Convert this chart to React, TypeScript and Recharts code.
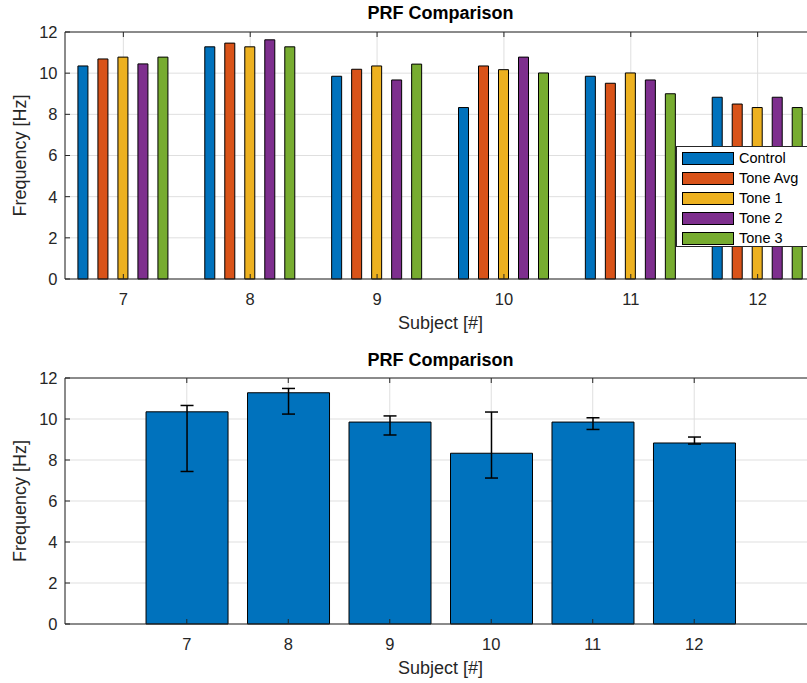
import { BarChart, Bar, XAxis, YAxis, CartesianGrid, ErrorBar, Legend } from "recharts";

const subjects = [7, 8, 9, 10, 11, 12];
const control = [10.35, 11.28, 9.85, 8.33, 9.85, 8.83];
const toneAvg = [10.69, 11.46, 10.19, 10.35, 9.51, 8.5];
const tone1 = [10.78, 11.28, 10.35, 10.17, 10.01, 8.33];
const tone2 = [10.45, 11.62, 9.67, 10.78, 9.67, 8.83];
const tone3 = [10.78, 11.28, 10.44, 10.01, 9.0, 8.33];
// error bar ends for the mean plot
const errLow = [7.44, 10.24, 9.22, 7.12, 9.49, 8.78];
const errHigh = [10.66, 11.49, 10.15, 10.34, 10.06, 9.12];
const yTicks = [0, 2, 4, 6, 8, 10, 12];

const series = [
  { name: "Control", values: control, color: "#0072BD" },
  { name: "Tone Avg", values: toneAvg, color: "#D95319" },
  { name: "Tone 1", values: tone1, color: "#EDB120" },
  { name: "Tone 2", values: tone2, color: "#7E2F8E" },
  { name: "Tone 3", values: tone3, color: "#77AC30" },
];

const groupData = subjects.map((s, i) => {
  const row: any = { subject: s };
  series.forEach((sr) => (row[sr.name] = sr.values[i]));
  return row;
});

const meanData = subjects.map((s, i) => ({
  subject: s,
  value: control[i],
  err: [control[i] - errLow[i], errHigh[i] - control[i]],
}));

const FONT = "'Liberation Sans', Arial, Helvetica, sans-serif";
const AX = "#262626";
const GRID = "#dfdfdf";
const tickStyle = { fontSize: 16.5, fill: AX, fontFamily: FONT };

function LegendBox() {
  return (
    <div
      style={{
        width: 140,
        height: 101,
        border: "1px solid #262626",
        background: "#fff",
        fontFamily: FONT,
        fontSize: 14.5,
        color: "#000",
        paddingTop: 1,
        boxSizing: "border-box",
      }}
    >
      {series.map((s) => (
        <div key={s.name} style={{ display: "flex", alignItems: "center", height: 20 }}>
          <div
            style={{
              width: 52,
              height: 13,
              marginLeft: 5,
              marginRight: 5,
              background: s.color,
              border: "1px solid #000",
              boxSizing: "border-box",
            }}
          />
          <span>{s.name}</span>
        </div>
      ))}
    </div>
  );
}

const titleLabel = (offset: number) => ({
  value: "PRF Comparison",
  position: "top" as const,
  offset,
  fontSize: 18,
  fontWeight: "bold",
  fill: "#000",
  fontFamily: FONT,
});

function TopChart() {
  return (
    <BarChart
      width={830}
      height={340}
      data={groupData}
      margin={{ top: 31, right: 14, left: 0, bottom: 0 }}
      barSize={10}
      barGap={10}
    >
      <CartesianGrid stroke={GRID} />
      <XAxis
        xAxisId="top"
        orientation="top"
        type="number"
        dataKey="subject"
        domain={[6.54, 12.46]}
        ticks={subjects}
        interval={0}
        height={1}
        tickSize={-5}
        tickFormatter={() => ""}
        stroke={AX}
        label={titleLabel(12)}
      />
      <XAxis
        type="number"
        dataKey="subject"
        domain={[6.54, 12.46]}
        ticks={subjects}
        interval={0}
        height={61}
        tickSize={-5}
        tickMargin={19}
        stroke={AX}
        tick={tickStyle}
        label={{ value: "Subject [#]", position: "insideBottom", offset: 11, fontSize: 18, fill: AX, fontFamily: FONT }}
      />
      <YAxis
        domain={[0, 12]}
        ticks={yTicks}
        interval={0}
        width={65}
        tickSize={-5}
        tickMargin={12.5}
        stroke={AX}
        tick={tickStyle}
        label={{ value: "Frequency [Hz]", angle: -90, position: "insideLeft", offset: 19.5, fontSize: 18, fill: AX, fontFamily: FONT, style: { textAnchor: "middle" } }}
      />
      {series.map((s) => (
        <Bar key={s.name} dataKey={s.name} fill={s.color} stroke="#000" strokeWidth={1} isAnimationActive={false} />
      ))}
      <Legend
        layout="vertical"
        align="center"
        verticalAlign="middle"
        wrapperStyle={{ left: 676, top: 146, width: 140, height: 101 }}
        content={() => <LegendBox />}
      />
    </BarChart>
  );
}

function BottomChart() {
  return (
    <BarChart
      width={830}
      height={343}
      data={meanData}
      margin={{ top: 37, right: 14, left: 0, bottom: 0 }}
      barSize={82}
    >
      <CartesianGrid stroke={GRID} />
      <XAxis
        xAxisId="top"
        orientation="top"
        type="number"
        dataKey="subject"
        domain={[5.8, 13.2]}
        ticks={subjects}
        interval={0}
        height={1}
        tickSize={-5}
        tickFormatter={() => ""}
        stroke={AX}
        label={titleLabel(11.5)}
      />
      <XAxis
        type="number"
        dataKey="subject"
        domain={[5.8, 13.2]}
        ticks={subjects}
        interval={0}
        height={59}
        tickSize={-5}
        tickMargin={19}
        stroke={AX}
        tick={tickStyle}
        label={{ value: "Subject [#]", position: "insideBottom", offset: 9, fontSize: 18, fill: AX, fontFamily: FONT }}
      />
      <YAxis
        domain={[0, 12]}
        ticks={yTicks}
        interval={0}
        width={65}
        tickSize={-5}
        tickMargin={12.5}
        stroke={AX}
        tick={tickStyle}
        label={{ value: "Frequency [Hz]", angle: -90, position: "insideLeft", offset: 19.5, fontSize: 18, fill: AX, fontFamily: FONT, style: { textAnchor: "middle" } }}
      />
      <Bar dataKey="value" fill="#0072BD" stroke="#000" strokeWidth={1} isAnimationActive={false}>
        <ErrorBar dataKey="err" width={6.5} strokeWidth={1.5} stroke="#000" direction="y" />
      </Bar>
    </BarChart>
  );
}

export default function App() {
  return (
    <div
      style={{
        position: "absolute",
        left: 0,
        top: 0,
        width: 807,
        height: 683,
        overflow: "hidden",
        background: "#fff",
        fontFamily: FONT,
      }}
    >
      <div style={{ position: "absolute", left: 0, top: 0 }}>
        <TopChart />
      </div>
      <div style={{ position: "absolute", left: 0, top: 340 }}>
        <BottomChart />
      </div>
    </div>
  );
}
